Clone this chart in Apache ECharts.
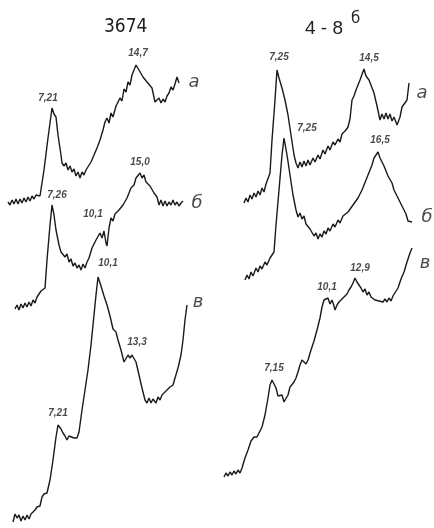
<!DOCTYPE html>
<html><head><meta charset="utf-8">
<script src="https://cdn.jsdelivr.net/npm/echarts@6/dist/echarts.min.js"></script>
<style>html,body{margin:0;padding:0;background:#fff}#c{width:434px;height:528px}</style>
</head><body><div id="c"></div>
<script>
// Traces (horizontal position, vertical offset in figure units; vertical axis points down)
const leftA = [[8,202],[10,205],[12,200],[14,204],[16,199],[18,204],[20,199],[22,203],[24,198],[26,202],[28,197],[30,201],[32,196],[34,199],[36,195],[38,197],[40,196],[44,170],[48,138],[52,108],[54,114],[56,117],[58,135],[61,155],[62,163],[64,166],[66,163],[68,170],[70,166],[72,172],[74,169],[76,176],[78,172],[80,178],[82,172],[84,175],[86,170],[88,171],[91,162],[94,155],[97,148],[100,140],[103,130],[105,122],[107,118],[109,123],[111,113],[113,117],[116,106],[118,108],[120,98],[122,101],[124,89],[126,92],[128,82],[130,85],[132,75],[134,70],[136,65],[137,63],[139,70],[141,68],[143,77],[145,75],[147,82],[149,80],[152,88],[155,102],[157,104],[159,98],[161,103],[163,99],[165,102],[167,96],[169,93],[171,87],[173,90],[175,84],[177,77],[179,83]];
const leftB = [[15,309],[17,305],[19,310],[21,304],[23,308],[25,303],[27,307],[29,302],[31,306],[33,300],[35,303],[37,297],[39,299],[41,291],[43,293],[45,288],[47,260],[50,225],[52,205],[54,215],[56,230],[59,245],[61,252],[63,250],[65,257],[67,254],[69,262],[71,259],[73,266],[75,263],[77,268],[79,265],[81,270],[83,264],[85,268],[87,262],[89,258],[92,248],[94,246],[96,240],[98,238],[100,233],[102,238],[104,231],[106,243],[107,246],[109,228],[111,218],[113,221],[115,214],[117,216],[119,210],[121,211],[123,205],[125,206],[127,198],[129,197],[131,188],[134,185],[136,178],[138,176],[140,173],[142,178],[144,175],[146,182],[148,180],[150,186],[152,186],[154,193],[157,197],[159,205],[161,200],[163,206],[165,201],[167,206],[169,202],[171,205],[173,200],[175,205],[177,202],[179,206],[181,203],[183,201]];
const leftC = [[13,522],[15,514],[17,518],[19,515],[21,521],[23,516],[25,520],[27,515],[29,519],[31,514],[33,513],[35,510],[37,507],[40,506],[42,497],[44,494],[47,493],[50,480],[53,460],[56,437],[58,425],[61,429],[63,433],[65,436],[67,440],[69,436],[71,435],[74,438],[77,438],[79,432],[82,410],[85,390],[88,370],[91,345],[94,315],[96,295],[98,277],[101,286],[104,296],[107,305],[110,316],[113,329],[116,332],[118,340],[121,350],[124,362],[126,364],[128,355],[130,358],[132,355],[134,356],[136,362],[139,375],[142,388],[145,400],[147,403],[149,398],[151,403],[153,399],[156,403],[158,397],[160,400],[162,395],[165,392],[167,391],[170,387],[173,385],[175,378],[178,368],[181,355],[183,340],[185,320],[187,305]];
const rightA = [[244,203],[246,198],[248,202],[250,195],[252,199],[254,193],[256,197],[258,191],[260,195],[262,188],[264,192],[266,184],[268,183],[270,173],[272,140],[275,100],[277,70],[279,78],[282,88],[285,100],[288,115],[291,135],[294,155],[296,163],[298,168],[300,162],[302,167],[304,161],[306,166],[308,160],[310,165],[313,158],[315,162],[318,155],[320,159],[323,150],[325,154],[328,146],[330,150],[333,142],[335,145],[338,139],[340,142],[342,134],[344,136],[346,130],[348,127],[350,119],[352,100],[354,96],[356,90],[358,92],[360,80],[362,78],[364,69],[366,76],[369,80],[374,93],[377,106],[380,120],[382,114],[384,119],[386,113],[388,119],[390,114],[392,121],[394,117],[397,125],[400,117],[402,107],[404,109],[407,100],[409,83]];
const rightB = [[245,280],[247,275],[249,279],[251,272],[253,276],[256,268],[258,272],[260,266],[262,269],[265,262],[267,265],[270,258],[272,257],[274,252],[276,225],[279,190],[282,155],[284,138],[287,155],[290,175],[293,195],[296,210],[298,217],[300,213],[302,219],[304,216],[306,224],[308,222],[310,229],[312,228],[314,236],[316,233],[318,239],[320,234],[322,237],[324,231],[326,234],[328,228],[330,231],[333,224],[335,227],[338,220],[340,223],[343,216],[345,218],[348,212],[350,213],[353,205],[355,207],[358,198],[360,200],[362,190],[364,192],[366,180],[368,181],[370,170],[372,165],[374,158],[376,160],[378,152],[380,158],[382,156],[384,166],[386,168],[388,176],[390,178],[392,183],[394,190],[397,196],[400,202],[403,208],[406,214],[408,221],[410,219],[412,222]];
const rightC = [[224,477],[226,473],[228,476],[230,472],[232,475],[234,471],[236,474],[238,470],[240,473],[242,468],[245,458],[248,450],[251,441],[254,437],[257,437],[259,435],[262,427],[265,415],[268,398],[270,385],[272,380],[274,380],[276,388],[278,396],[280,398],[282,395],[284,402],[286,403],[288,395],[290,387],[292,385],[294,382],[296,378],[298,372],[300,365],[302,360],[304,360],[306,364],[308,360],[311,350],[314,341],[317,330],[320,318],[322,307],[324,300],[326,302],[328,298],[330,304],[332,300],[334,306],[335,310],[337,305],[339,302],[341,300],[343,298],[345,300],[347,294],[349,290],[351,287],[353,283],[355,278],[357,282],[359,284],[361,288],[363,292],[365,289],[367,295],[369,292],[371,297],[373,295],[375,300],[377,298],[379,301],[381,299],[383,302],[385,299],[387,302],[389,298],[391,301],[393,296],[395,297],[398,288],[401,279],[404,272],[407,262],[410,253],[412,248]];

// Peak annotations: [x, y, text]
const peakLabels = [
  [48,98,'7,21'],[138,53,'14,7'],[57,195,'7,26'],[93,214,'10,1'],[140,162,'15,0'],
  [58,413,'7,21'],[108,263,'10,1'],[137,342,'13,3'],
  [279,57,'7,25'],[369,58,'14,5'],[307,128,'7,25'],[380,140,'16,5'],
  [274,368,'7,15'],[327,287,'10,1'],[360,268,'12,9']
];
// Curve letters: [x, y, text]
const curveLetters = [
  [194,82,'a'],[197,203,'б'],[198,302,'в'],
  [422,93,'a'],[427,217,'б'],[425,263,'в']
];
const titles = ['3674', '4 - 8', 'б'];

const chart = echarts.init(document.getElementById('c'), null, {renderer:'canvas'});
const lineS = (d) => ({type:'line', data:d, symbol:'none', smooth:false, silent:true,
  lineStyle:{color:'#1a1a1a', width:1.4}, z:2});
chart.setOption({
  backgroundColor:'#ffffff',
  animation:false,
  grid:{left:0, right:0, top:0, bottom:0},
  xAxis:{type:'value', min:0, max:434, show:false},
  yAxis:{type:'value', min:0, max:528, inverse:true, show:false},
  graphic:[
    {type:'text', left:104, top:18, style:{text:titles[0], font:'19px "DejaVu Sans Condensed", "Liberation Sans", sans-serif', fill:'#222'}},
    {type:'text', left:305, top:19, style:{text:titles[1], font:'19px "Liberation Sans", sans-serif', fill:'#222'}},
    {type:'text', left:351, top:12, style:{text:titles[2], font:'15px "DejaVu Sans", sans-serif', fill:'#222'}}
  ],
  series:[
    lineS(leftA), lineS(leftB), lineS(leftC), lineS(rightA), lineS(rightB), lineS(rightC),
    {type:'scatter', data:peakLabels, symbolSize:0, silent:true, z:3,
     label:{show:true, position:'inside', formatter:p=>p.value[2], color:'#1a1a1a',
       fontSize:10, fontStyle:'italic', fontWeight:'bold', fontFamily:'"Liberation Sans Narrow", "Liberation Sans", sans-serif'}},
    {type:'scatter', data:curveLetters, symbolSize:0, silent:true, z:3,
     label:{show:true, position:'inside', formatter:p=>p.value[2], color:'#1a1a1a',
       fontSize:18, fontStyle:'italic', fontFamily:'"DejaVu Sans", sans-serif'}}
  ]
});
</script></body></html>
